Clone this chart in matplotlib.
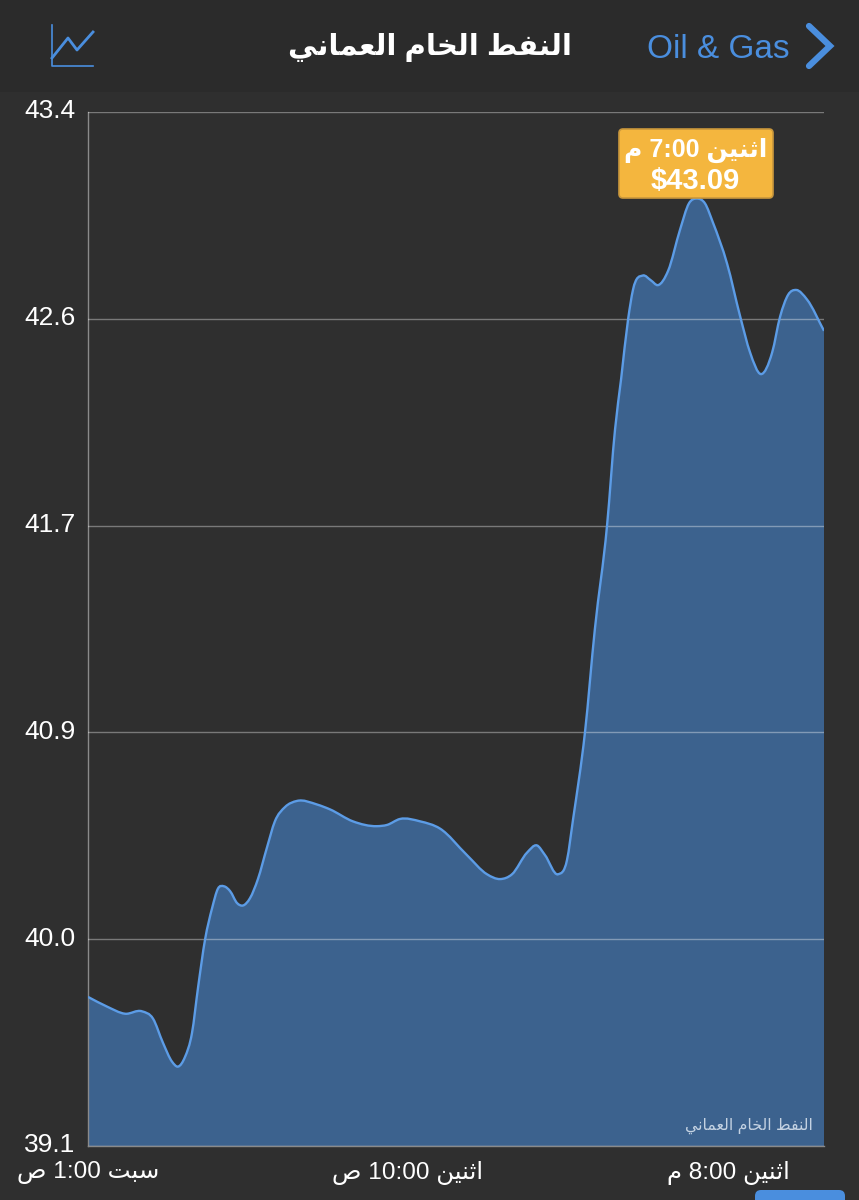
#!/usr/bin/env python
import numpy as np
from matplotlib import pyplot as plt
from matplotlib.patches import PathPatch, FancyBboxPatch, Rectangle
from matplotlib.path import Path
from matplotlib.transforms import ScaledTranslation

plt.rcParams['font.family'] = ['Liberation Sans', 'DejaVu Sans']

# values: hours along the axis, price in dollars
hours = [0, .59, 1.16, 1.69, 2.03, 2.34, 2.63, 2.81, 3.03, 3.25, 3.44, 3.66, 3.88, 4.06, 4.25, 4.44, 4.66,
         4.84, 5.06, 5.31, 5.59, 5.84, 6.16, 6.53, 7.16, 7.56, 8.28, 9.03, 9.34, 9.75, 10.38, 11.0, 11.84,
         12.47, 12.88, 13.25, 13.72, 14.03, 14.28, 14.69, 14.97, 15.16, 15.53, 15.84, 16.22, 16.47, 16.66,
         16.88, 17.03, 17.34, 17.59, 17.81, 18.13, 18.5, 18.78, 19.03, 19.28, 19.53, 19.97, 20.38, 20.69,
         21.03, 21.38, 21.63, 21.88, 22.13, 22.47, 23]
price = [39.72, 39.68, 39.65, 39.66, 39.63, 39.53, 39.45, 39.43, 39.47, 39.57, 39.76, 39.96, 40.09, 40.17,
         40.18, 40.16, 40.11, 40.10, 40.13, 40.21, 40.34, 40.45, 40.51, 40.535, 40.52, 40.50, 40.45, 40.43,
         40.435, 40.46, 40.45, 40.42, 40.31, 40.23, 40.21, 40.23, 40.32, 40.35, 40.31, 40.23, 40.29, 40.46,
         40.82, 41.25, 41.68, 42.08, 42.29, 42.54, 42.66, 42.72, 42.70, 42.68, 42.74, 42.91, 43.02, 43.04,
         43.02, 42.94, 42.77, 42.55, 42.40, 42.31, 42.40, 42.55, 42.64, 42.66, 42.62, 42.49]

# the axis labels are rounded, the grid itself is evenly spaced
y_ticks = [39.1, 39.96, 40.82, 41.68, 42.54, 43.4]
y_labels = ['39.1', '40.0', '40.9', '41.7', '42.6', '43.4']
x_ticks = [0, 10, 20]
x_labels = ['سبت 1:00 ص', 'اثنين 10:00 ص', 'اثنين 8:00 م']
title = 'النفط الخام العماني'
back_label = 'Oil & Gas'
tip_time = 'اثنين 7:00 م'
tip_price = '$43.09'

bg_color = '#2f2f2f'
header_color = '#2b2b2b'
blue = '#4a8ede'

# (isolated, final, initial, medial) forms, matplotlib does no arabic shaping
forms = {'ا': 'ﺍﺎ', 'ل': 'ﻝﻞﻟﻠ', 'ن': 'ﻥﻦﻧﻨ', 'ف': 'ﻑﻒﻓﻔ', 'ط': 'ﻁﻂﻃﻄ', 'خ': 'ﺥﺦﺧﺨ', 'م': 'ﻡﻢﻣﻤ',
         'ع': 'ﻉﻊﻋﻌ', 'ي': 'ﻱﻲﻳﻴ', 'ث': 'ﺙﺚﺛﺜ', 'ب': 'ﺏﺐﺑﺒ', 'س': 'ﺱﺲﺳﺴ', 'ت': 'ﺕﺖﺗﺘ', 'ص': 'ﺹﺺﺻﺼ'}


def shape_word(word):
    if word[0] not in forms:
        return word
    out = []
    for i, c in enumerate(word):
        joins_prev = i > 0 and word[i - 1] != 'ا'
        joins_next = i < len(word) - 1 and c != 'ا'
        index = {(0, 0): 0, (1, 0): 1, (0, 1): 2, (1, 1): 3}[(int(joins_prev), int(joins_next))]
        out.append(forms[c][index])
    return ''.join(reversed(out))


def shape(text):
    return ' '.join(shape_word(w) for w in reversed(text.split(' ')))


def smooth_path(xs, ys):
    # bezier curve through the read points, slopes weighted by point spacing
    xs = np.array(xs, dtype=float)
    ys = np.array(ys, dtype=float)
    h = np.diff(xs)
    s = np.diff(ys) / h
    m = np.zeros(len(xs))
    m[1:-1] = (h[:-1] * s[1:] + h[1:] * s[:-1]) / (h[:-1] + h[1:])
    m[0] = s[0]
    m[-1] = s[-1]
    verts = [(xs[0], ys[0])]
    codes = [Path.MOVETO]
    for i in range(len(h)):
        verts += [(xs[i] + h[i] / 3, ys[i] + m[i] * h[i] / 3),
                  (xs[i + 1] - h[i] / 3, ys[i + 1] - m[i + 1] * h[i] / 3),
                  (xs[i + 1], ys[i + 1])]
        codes += [Path.CURVE4] * 3
    return verts, codes


fig = plt.figure(figsize=(8.59, 12), dpi=100, facecolor=bg_color)
ax = fig.add_axes([88 / 859, 1 - 1146 / 1200, (824 - 88) / 859, (1146 - 112) / 1200], facecolor=bg_color)

verts, codes = smooth_path(hours, price)
fill_verts = verts + [(hours[-1], y_ticks[0]), (hours[0], y_ticks[0]), (hours[0], price[0])]
fill_codes = codes + [Path.LINETO, Path.LINETO, Path.CLOSEPOLY]
ax.add_patch(PathPatch(Path(fill_verts, fill_codes), facecolor='#3c628e', edgecolor='none', zorder=1))
ax.add_patch(PathPatch(Path(verts, codes), facecolor='none', edgecolor='#5c9ce6', lw=1.7, zorder=3))

ax.set_xlim(0, 23)
ax.set_ylim(y_ticks[0], y_ticks[-1])
ax.set_yticks(y_ticks)
ax.set_yticklabels(y_labels, fontsize=19, color='white')
ax.set_xticks(x_ticks)
ax.set_xticklabels([shape(t) for t in x_labels], fontsize=17.6, color='white')
ax.tick_params(axis='both', length=0)
ax.tick_params(axis='y', pad=9)
ax.tick_params(axis='x', pad=11)
ax.grid(True, axis='y', color='white', alpha=0.36, lw=1, zorder=2)
ax.set_axisbelow(False)
for side in ['top', 'right']:
    ax.spines[side].set_visible(False)
for side in ['left', 'bottom']:
    ax.spines[side].set_color('#8a8a8a')
    ax.spines[side].set_linewidth(1)

# the y labels sit a little above their grid lines
lift = ScaledTranslation(0, 3 / 100, fig.dpi_scale_trans)
for label in ax.get_yticklabels():
    label.set_transform(label.get_transform() + lift)

ax.text(0.985, 0.0193, shape(title), transform=ax.transAxes, ha='right', va='center', fontsize=11.3, color='#c4d2e2', zorder=5)

# app chrome on top, in picture pixels
top = fig.add_axes([0, 0, 1, 1], facecolor='none')
top.set_xlim(0, 859)
top.set_ylim(1200, 0)
top.axis('off')
top.add_patch(Rectangle((0, 0), 859, 92, facecolor=header_color, edgecolor='none'))
top.text(430, 48, shape(title), ha='center', va='center', fontsize=21, color='white', fontweight='bold')
top.text(718, 50, back_label, ha='center', va='center', fontsize=24, color=blue)
top.plot([809, 830, 809], [26, 46, 66], color=blue, lw=4.5, solid_capstyle='round', solid_joinstyle='miter')
top.plot([52, 52, 93], [25, 66, 66], color=blue, lw=1.2)
top.plot([52, 68, 77, 93], [58, 38, 50, 32], color=blue, lw=2)

top.add_patch(FancyBboxPatch((622, 132), 148, 63, boxstyle='round,pad=3,rounding_size=4', facecolor='#f4b63e', edgecolor='#c9973c', lw=1.2))
top.text(696, 150, shape(tip_time), ha='center', va='center', fontsize=18, color='white', fontweight='bold')
top.text(695, 181, tip_price, ha='center', va='center', fontsize=21, color='white', fontweight='bold')

top.add_patch(FancyBboxPatch((758, 1193), 84, 20, boxstyle='round,pad=3,rounding_size=6', facecolor=blue, edgecolor='none'))

plt.savefig('out.png', dpi=100, facecolor=bg_color)
